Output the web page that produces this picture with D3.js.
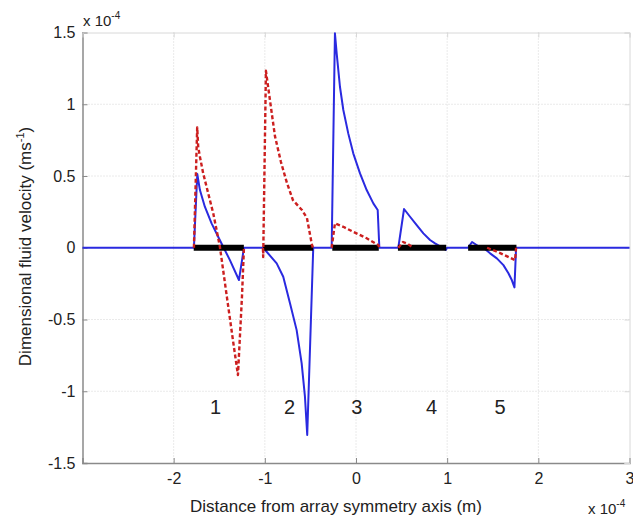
<!DOCTYPE html>
<html>
<head>
<meta charset="utf-8">
<title></title>
<style>
  body { margin: 0; background: #fff; }
  svg text { font-family: Arial, "Liberation Sans", Helvetica, sans-serif; fill: #222; }
</style>
</head>
<body>
<div id="chart"></div>
<script src="https://d3js.org/d3.v7.min.js"></script>
<script>
// ticks
var xTicks = [-2, -1, 0, 1, 2, 3];
var yTicks = [-1.5, -1, -0.5, 0, 0.5, 1, 1.5];

// electrode positions (x10^-4 m)
var electrodes = [[-1.78, -1.23], [-1.02, -0.47], [-0.26, 0.25], [0.46, 0.99], [1.23, 1.76]];
var electrodeNames = ["1", "2", "3", "4", "5"];
var nameX = [-1.54, -0.73, 0.01, 0.83, 1.58];
var nameY = -1.16;

// blue solid curve (x10^-4 m, x10^-4 m/s)
var blueCurve = [
  [-3, 0],
  [-1.778, 0], [-1.741, 0.514], [-1.712, 0.402], [-1.658, 0.286], [-1.584, 0.170], [-1.512, 0.077],
  [-1.457, 0.007], [-1.383, -0.086], [-1.284, -0.225], [-1.229, 0],
  [-1.018, 0], [-0.870, -0.109], [-0.798, -0.202], [-0.724, -0.387], [-0.651, -0.574], [-0.596, -0.806],
  [-0.560, -1.038], [-0.535, -1.305], [-0.469, 0],
  [-0.267, 0], [-0.231, 1.494], [-0.212, 1.355], [-0.176, 1.122], [-0.139, 0.960], [-0.085, 0.797],
  [-0.030, 0.658], [0.044, 0.518], [0.117, 0.402], [0.190, 0.309], [0.238, 0.263], [0.256, 0],
  [0.464, 0], [0.527, 0.270], [0.593, 0.216], [0.666, 0.158], [0.739, 0.100], [0.812, 0.054],
  [0.867, 0.031], [0.941, 0.003], [0.985, -0.016], [0.999, 0],
  [1.229, 0], [1.273, 0.040], [1.339, 0.012], [1.397, 0], [1.471, -0.039], [1.545, -0.074],
  [1.617, -0.121], [1.672, -0.178], [1.709, -0.225], [1.738, -0.276], [1.756, 0],
  [3, 0]
];

// red dashed curve, one piece per electrode
var redPieces = [
  [[-1.778, 0], [-1.742, 0.839], [-1.731, 0.704], [-1.712, 0.634], [-1.676, 0.518], [-1.621, 0.379],
   [-1.566, 0.240], [-1.529, 0.123], [-1.493, 0.007], [-1.416, -0.344], [-1.350, -0.643],
   [-1.295, -0.887], [-1.251, -0.344], [-1.229, 0]],
  [[-1.021, 0], [-1.018, -0.065], [-0.988, 1.233], [-0.944, 1.029], [-0.889, 0.778], [-0.823, 0.597],
   [-0.757, 0.451], [-0.692, 0.332], [-0.593, 0.263], [-0.538, 0.207], [-0.483, 0.019], [-0.472, 0]],
  [[-0.267, 0], [-0.231, 0.170], [-0.139, 0.146], [-0.030, 0.111], [0.117, 0.066], [0.245, 0.019], [0.256, 0]],
  [[0.464, 0], [0.516, 0.040], [0.571, 0.026], [0.626, 0]],
  [[1.438, 0], [1.581, -0.037], [1.745, -0.086], [1.756, 0]]
];

var W = 633, H = 517;
var pl = 82.5, pr = 629.5, pt = 32.5, pb = 463;

var svg = d3.select("#chart").append("svg").attr("width", W).attr("height", H);

var x = d3.scaleLinear().domain([-3, 3]).range([pl, pr]);
var y = d3.scaleLinear().domain([-1.5, 1.5]).range([pb, pt]);

// grid
svg.append("g").selectAll("line").data(xTicks.filter(function(d) { return d > -3 && d < 3; }))
  .enter().append("line")
  .attr("x1", function(d) { return x(d); }).attr("x2", function(d) { return x(d); })
  .attr("y1", pt).attr("y2", pb)
  .attr("stroke", "#d4d4d4").attr("stroke-width", 1).attr("stroke-dasharray", "1,2");
svg.append("g").selectAll("line").data(yTicks.filter(function(d) { return d > -1.5 && d < 1.5; }))
  .enter().append("line")
  .attr("y1", function(d) { return y(d); }).attr("y2", function(d) { return y(d); })
  .attr("x1", pl).attr("x2", pr)
  .attr("stroke", "#d4d4d4").attr("stroke-width", 1).attr("stroke-dasharray", "1,2");

// axes (matlab style, ticks inward)
function fmt(d) { return String(d); }
var gx = svg.append("g").attr("transform", "translate(0," + pb + ")")
  .call(d3.axisBottom(x).tickValues(xTicks).tickFormat(fmt).tickSize(-5).tickPadding(10));
var gy = svg.append("g").attr("transform", "translate(" + pl + ",0)")
  .call(d3.axisLeft(y).tickValues(yTicks).tickFormat(fmt).tickSize(-5).tickPadding(7));
var gt = svg.append("g").attr("transform", "translate(0," + pt + ")")
  .call(d3.axisTop(x).tickValues(xTicks).tickFormat("").tickSize(-5));
var gr = svg.append("g").attr("transform", "translate(" + pr + ",0)")
  .call(d3.axisRight(y).tickValues(yTicks).tickFormat("").tickSize(-5));

[gx, gy].forEach(function(g) {
  g.select(".domain").attr("stroke", "#8a8a8a").attr("stroke-width", 1.5);
  g.selectAll(".tick line").attr("stroke", "#8a8a8a");
  g.selectAll(".tick text").style("font-size", "16px").attr("fill", "#222");
});
[gt, gr].forEach(function(g) {
  g.select(".domain").attr("stroke", "#d8d8d8");
  g.selectAll(".tick line").attr("stroke", "#d8d8d8");
});

var line = d3.line().x(function(d) { return x(d[0]); }).y(function(d) { return y(d[1]); });

// blue solid
svg.append("path").datum(blueCurve).attr("d", line)
  .attr("fill", "none").attr("stroke", "#2a2ae0").attr("stroke-width", 2)
  .attr("stroke-linejoin", "round");

// electrodes
svg.append("g").selectAll("line").data(electrodes).enter().append("line")
  .attr("x1", function(d) { return x(d[0]); }).attr("x2", function(d) { return x(d[1]); })
  .attr("y1", y(0)).attr("y2", y(0))
  .attr("stroke", "#000").attr("stroke-width", 6);

// red dashed
svg.append("g").selectAll("path").data(redPieces).enter().append("path")
  .attr("d", line)
  .attr("fill", "none").attr("stroke", "#cc1f1f").attr("stroke-width", 2.4)
  .attr("stroke-dasharray", "4,2.5").attr("stroke-linejoin", "round");

// electrode numbers
svg.append("g").selectAll("text").data(electrodeNames).enter().append("text")
  .attr("x", function(d, i) { return x(nameX[i]); })
  .attr("y", y(nameY))
  .attr("text-anchor", "middle")
  .style("font-size", "20px")
  .text(function(d) { return d; });

// axis titles
svg.append("text").attr("x", 336).attr("y", 512).attr("text-anchor", "middle")
  .style("font-size", "17px").text("Distance from array symmetry axis (m)");

var yt = svg.append("text").attr("transform", "translate(31,246.5) rotate(-90)")
  .attr("text-anchor", "middle").style("font-size", "17px");
yt.append("tspan").text("Dimensional fluid velocity (ms");
yt.append("tspan").attr("dy", -7).style("font-size", "11px").text("-1");
yt.append("tspan").attr("dy", 7).text(")");

// exponent labels
function expLabel(px, py) {
  var t = svg.append("text").attr("x", px).attr("y", py).style("font-size", "15px");
  t.append("tspan").text("x 10");
  t.append("tspan").attr("dy", -7).style("font-size", "10px").text("-4");
}
expLabel(83, 26);
expLabel(588, 514);
</script>
</body>
</html>
